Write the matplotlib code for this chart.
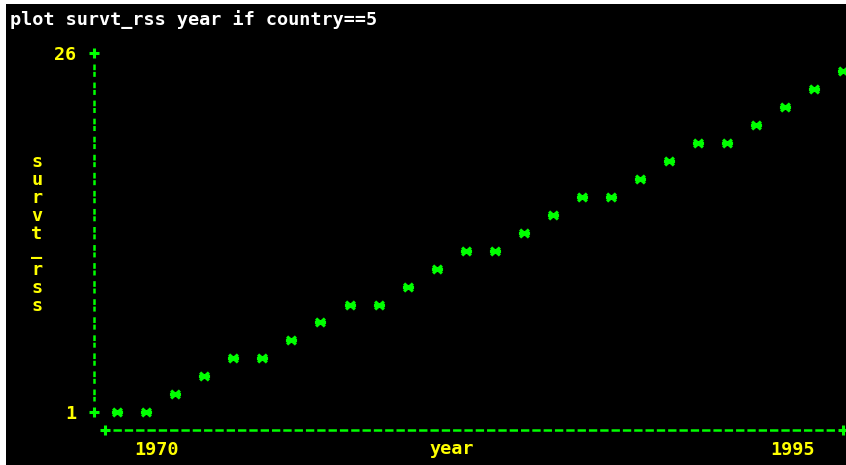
import matplotlib
matplotlib.use("Agg")
import matplotlib.pyplot as plt
import matplotlib.transforms as mtransforms
from matplotlib.patches import Rectangle
from matplotlib.path import Path

# ---- data -------------------------------------------------------------
years = list(range(1970, 1996))
survt_rss = [1, 1, 2.25, 3.5, 4.75, 4.75, 6, 7.25, 8.5, 8.5, 9.75, 11,
             12.25, 12.25, 13.5, 14.75, 16, 16, 17.25, 18.5, 19.75, 19.75,
             21, 22.25, 23.5, 24.75]
y_ticks = [1, 26]
x_tick_labels = ["1970", "1995"]
command = "plot survt_rss year if country==5"
y_name = "survt_rss"
x_name = "year"

# ---- styling ------------------------------------------------------------
plt.rcParams["lines.scale_dashes"] = False
GREEN = "#00ff00"
YELLOW = "#ffff00"
FONT = dict(family="DejaVu Sans Mono", weight="bold", size=13.3)

W, H = 846, 465
fig = plt.figure(figsize=(W / 100, H / 100), dpi=100, facecolor="white")

# screen-space layer (pixel coordinates, origin top-left)
scr = fig.add_axes([0, 0, 1, 1])
scr.set_xlim(0, W)
scr.set_ylim(H, 0)
scr.axis("off")
scr.add_patch(Rectangle((6, 4), W + 10, H + 10, facecolor="black",
                        edgecolor="none", zorder=0, clip_on=True))

# data layer: years / values mapped onto the character screen
ax = fig.add_axes([0, 0, 1, 1])
ax.patch.set_alpha(0)
ax.axis("off")
px_year = (843.0 - 117.3) / (years[-1] - years[0])
ax.set_xlim(years[0] - 117.3 / px_year, years[0] + (W - 117.3) / px_year)
px_unit = (412.3 - 53.0) / (y_ticks[1] - y_ticks[0])
ax.set_ylim(y_ticks[0] - (H - 412.3) / px_unit, y_ticks[0] + 412.3 / px_unit)

# command line at the top
scr.text(10, 25, command, color="white", ha="left", va="baseline", **FONT)

# vertical axis: broken line with + at each labelled value
scr.plot([94, 94], [64, 401], color=GREEN, lw=1.8,
         linestyle=(0, (4.1, 1.2, 3.6, 4.1)), solid_capstyle="butt")
ytrans = mtransforms.blended_transform_factory(scr.transData, ax.transData)
for v in y_ticks:
    ax.plot([94], [v], transform=ytrans, marker="+", ms=6.5, mew=2.2,
            color=GREEN, linestyle="none")
    ax.text(76, v, str(v), transform=ytrans, color=YELLOW, ha="right",
            va="center_baseline", **FONT)

# horizontal axis
scr.plot([112.7, 836], [430, 430], color=GREEN, lw=1.8,
         linestyle=(0, (6.0, 2.15)))
scr.plot([105, 843], [430, 430], marker="+", ms=6.5, mew=2.2,
         color=GREEN, linestyle="none")
scr.text(157, 455, x_tick_labels[0], color=YELLOW, ha="center",
         va="baseline", **FONT)
scr.text(792, 455, x_tick_labels[1], color=YELLOW, ha="center",
         va="baseline", **FONT)
scr.text(452, 454, x_name, color=YELLOW, ha="center", va="baseline", **FONT)

# vertical variable name, one character per text row
for i, ch in enumerate(y_name):
    base = 167 + 18 * i
    if ch == "_":
        base -= 2
    scr.text(37, base, ch, color=YELLOW, ha="center", va="baseline", **FONT)

# asterisk marker for the points: horizontal bar crossed by an X
star = Path([(-1, 0), (1, 0), (-0.8, -0.7), (0.8, 0.7),
             (-0.8, 0.7), (0.8, -0.7), (0, -0.4), (0, 0.4)],
            [Path.MOVETO, Path.LINETO] * 4)
ax.plot(years, survt_rss, linestyle="none", marker=star, ms=8, mew=2.3,
        mec=GREEN, mfc="none")

fig.savefig("out.png", dpi=100, facecolor=fig.get_facecolor())
